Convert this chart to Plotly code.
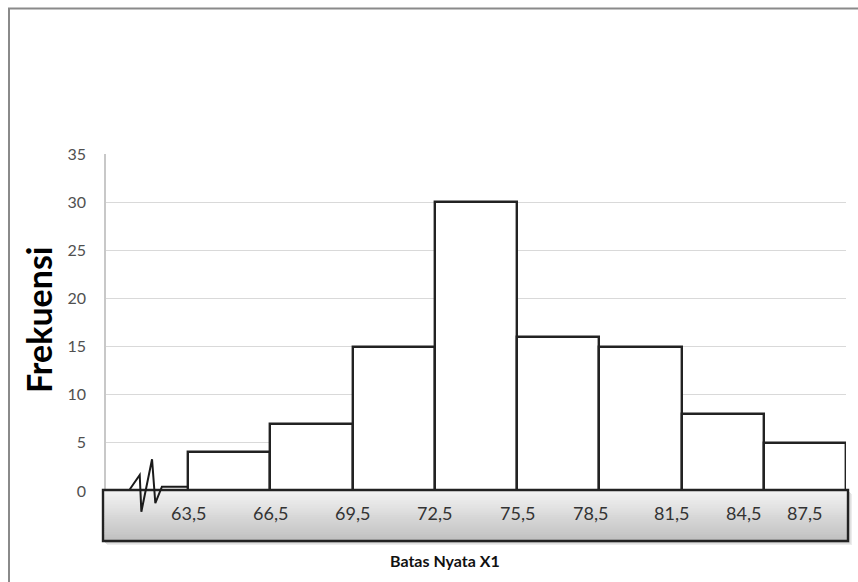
import plotly.graph_objects as go

# Class boundaries (real limits) and frequencies per class
boundaries = ["63,5", "66,5", "69,5", "72,5", "75,5", "78,5", "81,5", "84,5", "87,5"]
frequencies = [4, 7, 15, 30, 16, 15, 8, 5]
y_ticks = [0, 5, 10, 15, 20, 25, 30, 35]

W_PX, H_PX = 858, 582
L, R, T, B = 106, 846, 154, 491
PW, PH = R - L, B - T
N_SLOTS = len(frequencies) + 1          # first slot holds the axis-break mark
Y_MAX = 35


def px_x(px):
    return (px - L) / PW


def px_y(py):
    return (B - py) / PH


def dx(v):
    return v / N_SLOTS


def dy(v):
    return v / Y_MAX


font = "Lato, 'Open Sans', sans-serif"

centers = [i + 1.5 for i in range(len(frequencies))]

fig = go.Figure()
fig.add_trace(go.Bar(
    x=centers, y=frequencies, width=1,
    marker=dict(color="white", line=dict(color="#222222", width=2.4)),
    hoverinfo="x+y", showlegend=False,
))

shapes = []

# outer chart frame
shapes.append(dict(type="rect", xref="paper", yref="paper",
                   x0=px_x(9), x1=px_x(880), y0=px_y(600), y1=px_y(8.5),
                   line=dict(color="#8a8a8a", width=2), fillcolor="rgba(0,0,0,0)", layer="below"))

# category band below the bars: soft shadow, vertical gradient, frame
bx0, bx1, by0, by1 = 103, 848, 490, 541
for off, col in [(4, "#ececec"), (3, "#e0e0e0"), (2, "#d2d2d2")]:
    shapes.append(dict(type="rect", xref="paper", yref="paper",
                       x0=px_x(bx0 + off), x1=px_x(bx1 + off), y0=px_y(by1 + off), y1=px_y(by0 + off),
                       line=dict(width=0), fillcolor=col))
n_strips = 26
top_c, bot_c = (243, 243, 243), (192, 192, 192)
step = (by1 - by0) / n_strips
for i in range(n_strips):
    t = i / (n_strips - 1)
    c = tuple(round(top_c[k] + (bot_c[k] - top_c[k]) * t) for k in range(3))
    shapes.append(dict(type="rect", xref="paper", yref="paper",
                       x0=px_x(bx0), x1=px_x(bx1),
                       y0=px_y(by0 + (i + 1) * step + 0.3), y1=px_y(by0 + i * step),
                       line=dict(width=0), fillcolor="rgb(%d,%d,%d)" % c))
shapes.append(dict(type="rect", xref="paper", yref="paper",
                   x0=px_x(bx0), x1=px_x(bx1), y0=px_y(by1), y1=px_y(by0),
                   line=dict(color="#222222", width=2.4), fillcolor="rgba(0,0,0,0)"))

# axis-break zigzag in the empty first slot
zig = [(0.29, 0.18), (0.41, 1.66), (0.43, -2.15), (0.56, 3.3), (0.60, -1.27), (0.68, 0.45), (1.0, 0.45)]
path = "M " + " L ".join("%.5f,%.5f" % (dx(a), dy(b)) for a, b in zig)
shapes.append(dict(type="path", xref="paper", yref="paper", path=path,
                   line=dict(color="#1a1a1a", width=2)))

# boundary labels inside the band
label_x = [1.0, 2.0, 3.0, 4.0, 5.0, 5.89, 6.88, 7.75, 8.5]
annotations = []
for xv, txt in zip(label_x, boundaries):
    annotations.append(dict(x=xv, y=px_y(513), xref="x", yref="paper", text=txt,
                            showarrow=False, xanchor="center", yanchor="middle",
                            font=dict(family=font, size=18, color="#333333")))

annotations.append(dict(x=px_x(445), y=px_y(560), xref="paper", yref="paper",
                        text="<b>Batas Nyata X1</b>", showarrow=False,
                        xanchor="center", yanchor="middle",
                        font=dict(family=font, size=16, color="#111111")))
annotations.append(dict(x=px_x(38), y=px_y(320), xref="paper", yref="paper",
                        text="<b>Frekuensi</b>", showarrow=False, textangle=-90,
                        xanchor="center", yanchor="middle",
                        font=dict(family=font, size=34, color="#000000")))

fig.update_layout(
    width=W_PX, height=H_PX,
    margin=dict(l=L, r=W_PX - R, t=T, b=H_PX - B, pad=0),
    paper_bgcolor="white", plot_bgcolor="white",
    bargap=0,
    xaxis=dict(range=[0, N_SLOTS], showgrid=False, zeroline=False,
               showticklabels=False, ticks="", showline=False, fixedrange=True),
    yaxis=dict(range=[0, Y_MAX], tickvals=y_ticks, showgrid=True, gridcolor="#d9d9d9",
               gridwidth=1, zeroline=False, showline=True, linecolor="#c8c8c8", linewidth=1.5,
               ticks="", ticklabelstandoff=15,
               tickfont=dict(family=font, size=16, color="#505050"), fixedrange=True),
    shapes=shapes,
    annotations=annotations,
    showlegend=False,
)

fig.write_html("out.html")
